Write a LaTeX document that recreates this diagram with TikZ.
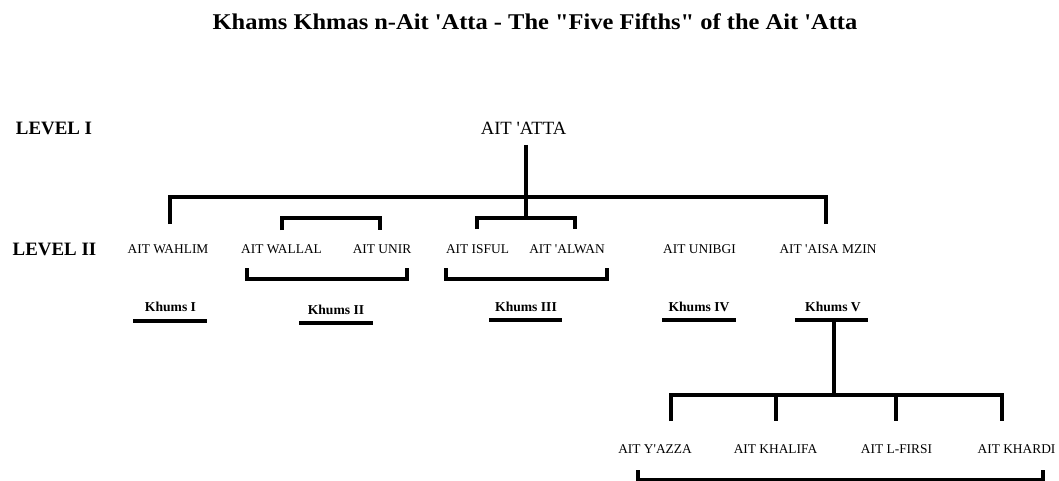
\documentclass[tikz,border=0pt]{standalone}
\usepackage{fontspec}
\setmainfont{Liberation Serif}
\newcommand{\sq}{\textquotesingle}
\newcommand{\dq}{\textquotedbl}
\begin{document}
\begin{tikzpicture}[x=1pt,y=-1pt,
  tree/.style={line width=4pt,line cap=butt,line join=miter},
  title/.style={font=\fontsize{22.5}{26}\selectfont\bfseries,inner sep=0pt},
  level/.style={font=\fontsize{18.9}{22}\selectfont\bfseries,inner sep=0pt},
  root/.style={font=\fontsize{18.7}{22}\selectfont,inner sep=0pt},
  clan/.style={font=\fontsize{13.4}{16}\selectfont,inner sep=0pt},
  khums/.style={font=\fontsize{13.6}{16}\selectfont\bfseries,inner sep=0pt}]
\useasboundingbox (0,0) rectangle (1059,481);
\clip (0,0) rectangle (1059,481);

% heading and level captions
\node[title] (ttl) at (535,22) {\scalebox{1.087}[1]{Khams Khmas n-Ait \sq Atta - The \dq Five Fifths\dq{} of the Ait \sq Atta}};
\node[level] (lev1) at (54,128) {LEVEL I};
\node[level] (lev2) at (54.5,249.5) {LEVEL II};

% level I
\node[root] (atta) at (523.5,128.5) {AIT \sq ATTA};

% level II clans
\node[clan] (wahlim) at (168,249) {AIT WAHLIM};
\node[clan] (wallal) at (281.5,249) {AIT WALLAL};
\node[clan] (unir)   at (382,249) {AIT UNIR};
\node[clan] (isful)  at (477.5,249) {AIT ISFUL};
\node[clan] (alwan)  at (567,249) {AIT \sq ALWAN};
\node[clan] (unibgi) at (699.5,249) {AIT UNIBGI};
\node[clan] (aisa)   at (828,249) {AIT \sq AISA MZIN};

% the five fifths
\node[khums] (k1) at (170.5,307) {Khums I};
\node[khums] (k2) at (336,309.5) {Khums II};
\node[khums] (k3) at (526,307) {Khums III};
\node[khums] (k4) at (699,307) {Khums IV};
\node[khums] (k5) at (833,307) {Khums V};

% sections of Khums V
\node[clan] (yazza)   at (655,449) {AIT Y\sq AZZA};
\node[clan] (khalifa) at (775.5,449) {AIT KHALIFA};
\node[clan] (firsi)   at (896.5,449) {AIT L-FIRSI};
\node[clan] (khardi)  at (1016.5,449) {AIT KHARDI};

% joints of the main tree
\coordinate (stemTop) at (526,145);
\coordinate (stemEnd) at (526,218);
\coordinate (barL) at (170,197);
\coordinate (barR) at (826,197);

% main bar from AIT 'ATTA
\draw[tree] (stemTop) -- (stemEnd);
\draw[tree] (170,224) coordinate (dropL) -- (barL) -- (barR) -- (826,224) coordinate (dropR);

% upper brackets over paired clans
\draw[tree] (282,230) -- (282,218) -- (380,218) -- (380,230);
\draw[tree] (477,229) -- (477,218) -- (575,218) -- (575,229);

% lower brackets joining pairs into one fifth
\draw[tree] (247,268) -- (247,279) -- (407,279) -- (407,268);
\draw[tree] (446,268) -- (446,279) -- (607,279) -- (607,268);

% underlines of the fifths
\draw[tree] (133,321) -- (207,321);
\draw[tree] (299,323) -- (373,323);
\draw[tree] (489,320) -- (562,320);
\draw[tree] (662,320) -- (736,320);
\draw[tree] (795,320) -- (868,320);

% Khums V subdivided into four sections
\coordinate (k5stem) at (834,320);
\coordinate (k5bar) at (834,395);
\draw[tree] (k5stem) -- (k5bar);
\draw[tree] (671,421) -- (671,395) -- (1002,395) -- (1002,421);
\draw[tree] (776,395) -- (776,421);
\draw[tree] (896,395) -- (896,421);

% bracket under the four sections
\draw[tree] (638,470) -- (638,480) -- (1043,480) -- (1043,470);
\end{tikzpicture}
\end{document}
